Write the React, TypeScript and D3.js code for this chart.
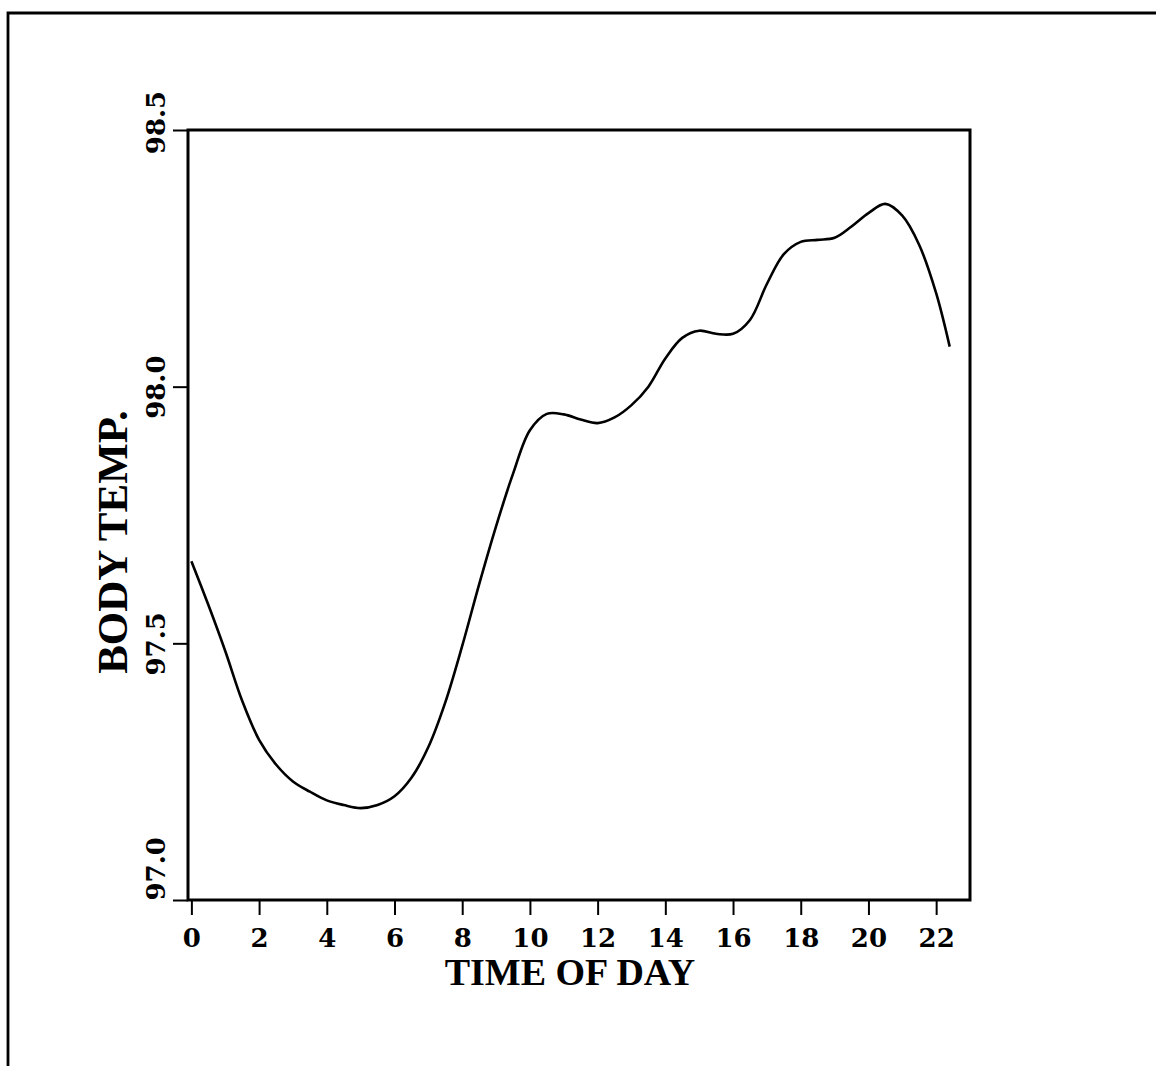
import React, { useEffect, useRef } from "react";
import * as d3 from "d3";

// hour of day and body temperature
const hours = [
  0, 0.5, 1, 1.5, 2, 2.5, 3, 3.5, 4, 4.5, 5, 5.5, 6, 6.5, 7, 7.5, 8, 8.5, 9, 9.5,
  10, 10.5, 11, 11.5, 12, 12.5, 13, 13.5, 14, 14.5, 15, 15.5, 16, 16.5, 17, 17.5,
  18, 18.5, 19, 19.5, 20, 20.5, 21, 21.5, 22, 22.4,
];
const temps = [
  97.66, 97.575, 97.485, 97.388, 97.312, 97.264, 97.231, 97.211, 97.194, 97.185,
  97.179, 97.185, 97.202, 97.238, 97.298, 97.385, 97.495, 97.615, 97.728, 97.83,
  97.915, 97.947, 97.946, 97.936, 97.929, 97.94, 97.964, 98.0, 98.055, 98.095,
  98.109, 98.103, 98.103, 98.13, 98.2, 98.258, 98.282, 98.286, 98.29, 98.312,
  98.338, 98.356, 98.333, 98.276, 98.182, 98.078,
];
const xTicks = [0, 2, 4, 6, 8, 10, 12, 14, 16, 18, 20, 22];
const yTicks = [97.0, 97.5, 98.0, 98.5];
const xTitle = "TIME OF DAY";
const yTitle = "BODY TEMP.";

export default function App() {
  const svgRef = useRef<SVGSVGElement>(null);

  useEffect(() => {
    const svg = d3.select(svgRef.current);
    svg.selectAll("*").remove();

    const left = 188, right = 970, top = 130, bottom = 900;
    const x = d3.scaleLinear().domain([-0.1, 23]).range([left, right]);
    const y = d3.scaleLinear().domain([97, 98.5]).range([bottom, top]);

    // outer page frame (top and left edges only)
    svg.append("path")
      .attr("d", "M8,1066V13H1156")
      .attr("fill", "none")
      .attr("stroke", "#000")
      .attr("stroke-width", 2.8);

    // x axis
    const xg = svg.append("g")
      .attr("transform", `translate(0,${bottom})`)
      .call(d3.axisBottom(x).tickValues(xTicks).tickSize(15).tickFormat(d3.format("d")));
    xg.select(".domain").remove();
    xg.selectAll("line").attr("stroke", "#000").attr("stroke-width", 2);
    xg.selectAll("text")
      .attr("y", 47)
      .attr("dy", null)
      .attr("fill", "#000")
      .attr("font-family", "DejaVu Serif")
      .attr("font-weight", "bold")
      .attr("font-size", 26);

    // y axis
    const yg = svg.append("g")
      .attr("transform", `translate(${left},0)`)
      .call(d3.axisLeft(y).tickValues(yTicks).tickSize(15).tickFormat(d3.format(".1f")));
    yg.select(".domain").remove();
    yg.selectAll("line").attr("stroke", "#000").attr("stroke-width", 2);
    yg.selectAll<SVGTextElement, number>("text")
      .attr("x", null)
      .attr("dy", null)
      .attr("transform", (d) => `translate(-23,${d === 98.5 ? -8 : 0}) rotate(-90)`)
      .attr("text-anchor", (d) => (d === 97.0 ? "start" : "middle"))
      .attr("fill", "#000")
      .attr("font-family", "DejaVu Serif")
      .attr("font-weight", "bold")
      .attr("font-size", 26);

    // plot frame
    svg.append("rect")
      .attr("x", left)
      .attr("y", top)
      .attr("width", right - left)
      .attr("height", bottom - top)
      .attr("fill", "none")
      .attr("stroke", "#000")
      .attr("stroke-width", 3);

    // curve
    const line = d3.line<number>()
      .x((d, i) => x(hours[i]))
      .y((d) => y(d))
      .curve(d3.curveCatmullRom.alpha(0.5));
    svg.append("path")
      .attr("d", line(temps))
      .attr("fill", "none")
      .attr("stroke", "#000")
      .attr("stroke-width", 2.6);

    // axis titles
    svg.append("text")
      .text(xTitle)
      .attr("x", 570)
      .attr("y", 985)
      .attr("text-anchor", "middle")
      .attr("font-family", "Liberation Serif")
      .attr("font-weight", "bold")
      .attr("font-size", 38);

    svg.append("text")
      .text(yTitle)
      .attr("transform", "translate(127,542) rotate(-90)")
      .attr("text-anchor", "middle")
      .attr("font-family", "Liberation Serif")
      .attr("font-weight", "bold")
      .attr("font-size", 43);
  }, []);

  return (
    <svg
      ref={svgRef}
      width={1156}
      height={1066}
      style={{ position: "absolute", left: 0, top: 0, background: "#fff" }}
    />
  );
}
